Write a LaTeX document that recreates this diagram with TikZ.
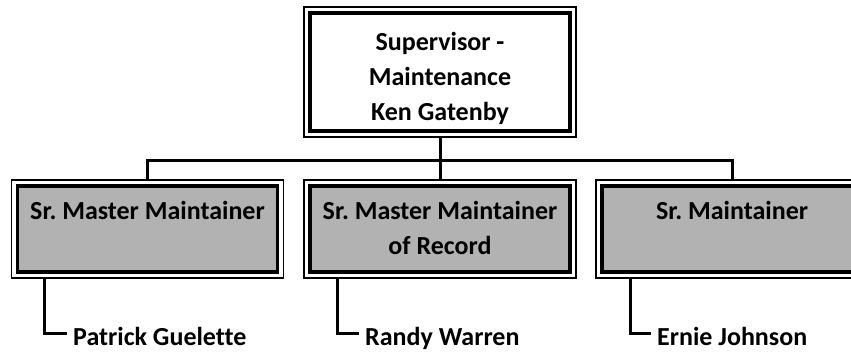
\documentclass[tikz,border=0pt]{standalone}
\usepackage{fontspec}
\setmainfont{Carlito}[Ligatures=NoCommon]
\frenchspacing
\begin{document}
\begin{tikzpicture}[x=1pt,y=-1pt,
  box/.style={rectangle, draw=black, line width=1.3pt, fill=white, inner sep=0pt,
    minimum width=272pt, minimum height=98pt,
    path picture={\draw[line width=3.5pt, fill=#1]
      ([shift={(5.8pt,-5.8pt)}]path picture bounding box.north west) rectangle
      ([shift={(-5.8pt,5.8pt)}]path picture bounding box.south east);}},
  box/.default={black!30},
  lbl/.style={inner sep=0pt, align=center, font=\bfseries\fontsize{26}{35}\selectfont},
  conn/.style={line width=3pt},
]
\useasboundingbox (0,0) rectangle (851,353);
\clip (0,0) rectangle (851,353);
% boxes
\node[box=white, minimum height=130pt] (top) at (440,72) {};
\node[box] (b1) at (147.5,229) {};
\node[box] (b2) at (440,229) {};
\node[box] (b3) at (732,229) {};
% labels
\node[lbl, anchor=base] (t0) at (440,120) {Supervisor -\\Maintenance\\Ken Gatenby};
\node[lbl, anchor=base] (t1) at (147.5,219) {Sr. Master Maintainer};
\node[lbl, anchor=base] (t2) at (440,254) {Sr. Master Maintainer\\of Record};
\node[lbl, anchor=base] (t3) at (732,219) {Sr. Maintainer};
% names
\node[lbl, anchor=base west] (n1) at (73,345) {Patrick Guelette};
\node[lbl, anchor=base west] (n2) at (365,345) {Randy Warren};
\node[lbl, anchor=base west] (n3) at (657,345) {Ernie Johnson};
% connectors
\coordinate (bus) at (440,160);
\draw[conn] (top.south) -- (b2.north);
\draw[conn] (b1.north) |- (bus) -| (b3.north);
\draw[conn] ([xshift=34pt]b1.south west) |- ([xshift=-6pt,yshift=12pt]n1.base west);
\draw[conn] ([xshift=34pt]b2.south west) |- ([xshift=-6pt,yshift=12pt]n2.base west);
\draw[conn] ([xshift=35pt]b3.south west) |- ([xshift=-6pt,yshift=12pt]n3.base west);
\end{tikzpicture}
\end{document}
